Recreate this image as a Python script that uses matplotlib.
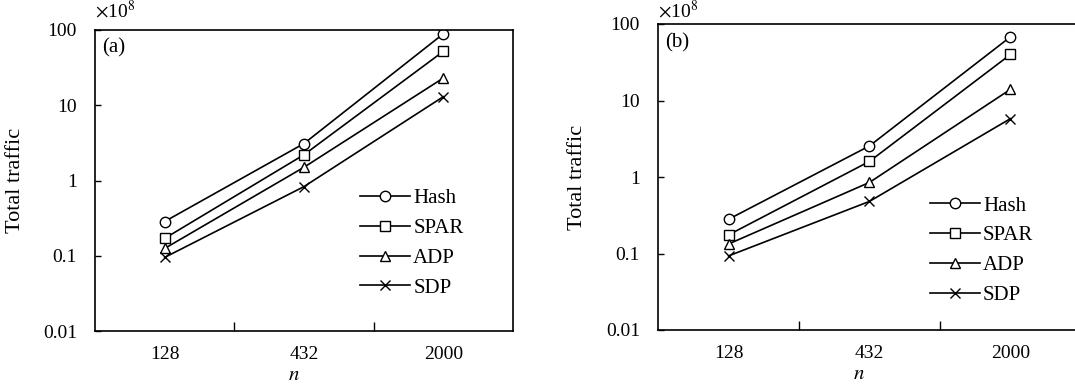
import numpy as np
import matplotlib
matplotlib.use("Agg")
import matplotlib.pyplot as plt

plt.rcParams["font.family"] = ["Liberation Serif", "DejaVu Serif"]
plt.rcParams["mathtext.fontset"] = "stix"

# x categories (number of nodes)
n_values = ["128", "432", "2000"]

# y tick labels (log scale, units of 1e8)
y_ticks = [0.01, 0.1, 1, 10, 100]
y_tick_labels = ["0.01", "0.1", "1", "10", "100"]

methods = ["Hash", "SPAR", "ADP", "SDP"]
markers = ["o", "s", "^", "x"]

# panel (a)
hash_a = [0.285, 3.1, 89]
spar_a = [0.17, 2.2, 52]
adp_a = [0.125, 1.5, 23]
sdp_a = [0.095, 0.83, 13]

# panel (b)
hash_b = [0.28, 2.55, 68]
spar_b = [0.175, 1.6, 40]
adp_b = [0.133, 0.85, 14]
sdp_b = [0.093, 0.48, 5.8]


def draw_panel(ax, series, tag, legend_anchor, scale_y):
    x = np.arange(len(n_values))

    for name, values, mk in zip(methods, series, markers):
        ax.plot(
            x,
            values,
            color="black",
            linewidth=1.2,
            marker=mk,
            markersize=7.5,
            markerfacecolor="white",
            markeredgecolor="black",
            markeredgewidth=1.0,
            label=name,
        )

    ax.set_yscale("log")
    ax.set_ylim(0.01, 100)
    ax.set_yticks(y_ticks)
    ax.set_yticklabels(y_tick_labels)
    ax.yaxis.set_minor_locator(matplotlib.ticker.NullLocator())
    ax.tick_params(axis="y", direction="in", length=4, width=1.0,
                   pad=13, labelsize=14)

    ax.set_xlim(-0.5, len(n_values) - 0.5)
    ax.set_xticks(x)
    ax.set_xticklabels(n_values)
    ax.set_xticks([0.5, 1.5], minor=True)
    ax.tick_params(axis="x", which="major", length=0, pad=11, labelsize=14)
    ax.tick_params(axis="x", which="minor", direction="in", length=6.5, width=1.0)

    for spine in ax.spines.values():
        spine.set_linewidth(1.2)

    ax.set_xlabel("$n$", fontsize=15, labelpad=2, x=0.475)
    ax.set_ylabel("Total traffic", fontsize=16)
    ax.yaxis.set_label_coords(-0.168, 0.5)

    # multiplier for the y values
    ax.text(0.0, scale_y, r"$\times$10$^{8}$", transform=ax.transAxes,
            fontsize=14, ha="left", va="baseline")
    ax.text(0.018, 0.94, tag, transform=ax.transAxes,
            fontsize=15, ha="left", va="center")

    ax.legend(
        loc="center left",
        bbox_to_anchor=legend_anchor,
        frameon=False,
        fontsize=15,
        handlelength=2.4,
        handletextpad=0.15,
        labelspacing=0.49,
        borderpad=0,
        borderaxespad=0,
    )


fig = plt.figure(figsize=(10.75, 3.88), dpi=100)

ax_a = fig.add_axes([95 / 1075, 1 - 331 / 388, 418 / 1075, 301 / 388])
ax_b = fig.add_axes([658 / 1075, 1 - 330 / 388, 423 / 1075, 306 / 388])

draw_panel(ax_a, [hash_a, spar_a, adp_a, sdp_a], "(a)", (0.634, 0.292), 1.04)
draw_panel(ax_b, [hash_b, spar_b, adp_b, sdp_b], "(b)", (0.643, 0.26), 1.02)

fig.savefig("out.png", dpi=100)
plt.close(fig)
